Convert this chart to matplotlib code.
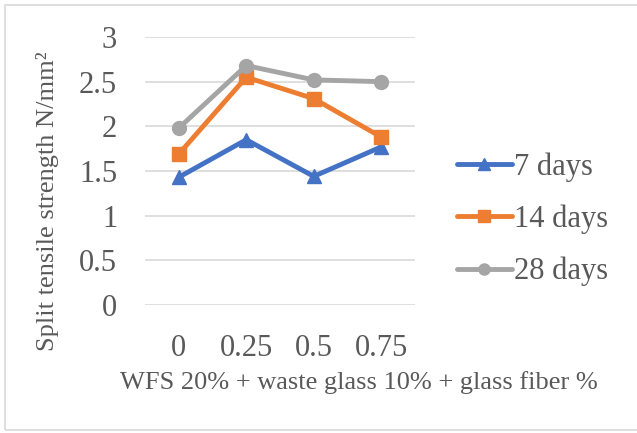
import matplotlib
matplotlib.use("Agg")
import matplotlib.pyplot as plt
from matplotlib.patches import Rectangle

plt.rcParams['font.family'] = ['Liberation Serif', 'DejaVu Serif']

categories = ["0", "0.25", "0.5", "0.75"]
series_names = ["7 days", "14 days", "28 days"]
days7 = [1.43, 1.85, 1.44, 1.77]
days14 = [1.69, 2.55, 2.31, 1.88]
days28 = [1.98, 2.68, 2.52, 2.50]
y_ticks = [0, 0.5, 1, 1.5, 2, 2.5, 3]
y_tick_labels = ["0", "0.5", "1", "1.5", "2", "2.5", "3"]

colors = ["#4472C4", "#ED7D31", "#A5A5A5"]
markers = ["^", "s", "o"]
text_color = "#595959"

W, H = 637, 433
fig = plt.figure(figsize=(W / 100, H / 100), dpi=100)
# chart-area frame
fig.patches.append(Rectangle((5 / W, 3 / H), 640 / W, 425 / H,
                             transform=fig.transFigure, fill=False,
                             edgecolor="#D9D9D9", linewidth=1.2))

ax = fig.add_axes([145 / W, 1 - 305 / H, 270 / W, 268 / H])
x = list(range(len(categories)))
for vals, name, c, m in zip([days7, days14, days28], series_names, colors, markers):
    ax.plot(x, vals, color=c, marker=m, markersize=10, linewidth=3.5,
            label=name, solid_capstyle="round", solid_joinstyle="round")

ax.set_xlim(-0.5, len(categories) - 0.5)
ax.set_ylim(0, 3)
ax.set_xticks(x)
ax.set_xticklabels(categories)
ax.set_yticks(y_ticks)
ax.set_yticklabels(y_tick_labels)
ax.tick_params(axis="both", length=0, labelsize=22, colors=text_color)
ax.tick_params(axis="y", pad=20)
ax.tick_params(axis="x", pad=21)
ax.grid(axis="y", color="#D9D9D9", linewidth=1.2)
ax.set_axisbelow(True)
for s in ax.spines.values():
    s.set_visible(False)

fig.text(359 / W, 1 - 383 / H, "WFS 20% + waste glass 10% + glass fiber %",
         fontsize=19, color=text_color, ha="center", va="center")
fig.text(48 / W, 1 - 201 / H, "Split tensile strength N/mm²",
         fontsize=19, color=text_color, ha="center", va="center", rotation=90)

leg = ax.legend(loc="center left", bbox_to_anchor=(1.111, 0.32), frameon=False,
                fontsize=22, labelcolor=text_color, handlelength=1.78,
                handletextpad=0.08, labelspacing=0.75, borderaxespad=0,
                markerscale=0.8)

fig.savefig("out.png", dpi=100)
